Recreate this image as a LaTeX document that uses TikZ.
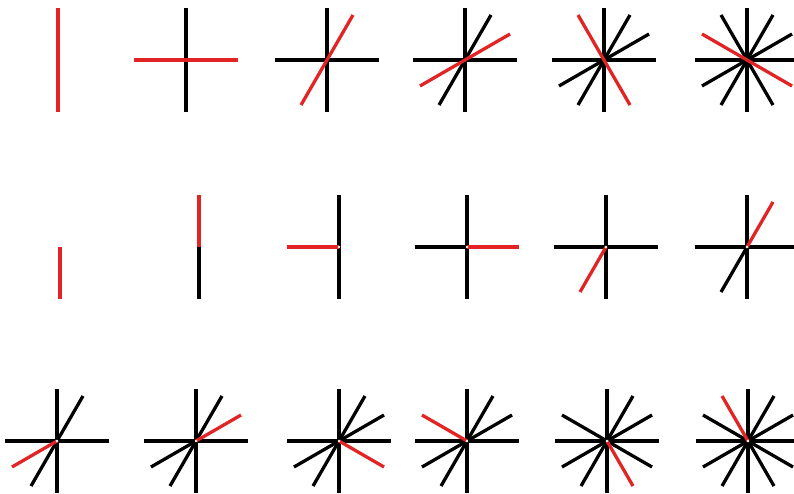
\documentclass[tikz,border=0pt]{standalone}
\definecolor{spokered}{RGB}{226,36,36}
\tikzset{
  spoke/.style={line width=2.8pt,black},
  newspoke/.style={line width=2.8pt,spokered},
  hub/.style={fill=white},
}
\begin{document}
\begin{tikzpicture}[x=0.03cm,y=0.03cm]
\useasboundingbox (0,0) rectangle (794,493);
\def\r{52}

% === Top row: whole lines ===
\begin{scope}[shift={(58,433)}]
    \draw[newspoke] (90:\r) -- (270:\r);
\end{scope}
\foreach \cx/\blk/\rd in {186/{90}/0, 327/{90,0}/60, 465/{90,0,60}/30,
                         604/{90,0,60,30}/120, 747/{90,0,60,30,120}/150} {
    \begin{scope}[shift={(\cx,433)}]
        \foreach \a in \blk \draw[spoke] (\a:\r) -- (\a+180:\r);
        \draw[newspoke] (\rd:\r) -- (\rd+180:\r);
    \end{scope}
}

% === Middle row: half lines ===
\begin{scope}[shift={(60,246)}]
    \draw[newspoke] (0,0) -- (270:\r);
\end{scope}
\begin{scope}[shift={(199,246)}]
    \draw[spoke] (0,0) -- (270:\r);
    \draw[newspoke] (0,0) -- (90:\r);
\end{scope}
\foreach \cx/\blk/\rd in {339/{270,90}/180, 467/{270,90,180}/0,
                         606/{270,90,180,0}/240, 747/{270,90,180,0,240}/60} {
    \begin{scope}[shift={(\cx,246)}]
        \foreach \a in \blk \draw[spoke] (0,0) -- (\a:\r);
        \draw[newspoke] (0,0) -- (\rd:\r);
        \fill[hub] (0,0) circle (1.3);
    \end{scope}
}

% === Bottom row: half lines, continued ===
\foreach \cx/\blk/\rd in {57/{270,90,180,0,240,60}/210,
                         196/{270,90,180,0,240,60,210}/30,
                         339/{270,90,180,0,240,60,210,30}/330,
                         467/{270,90,180,0,240,60,210,30}/150,
                         607/{270,90,180,0,240,60,210,30,330,150}/300,
                         748/{270,90,180,0,240,60,210,30,330,150,300}/120} {
    \begin{scope}[shift={(\cx,52)}]
        \foreach \a in \blk \draw[spoke] (0,0) -- (\a:\r);
        \draw[newspoke] (0,0) -- (\rd:\r);
        \fill[hub] (0,0) circle (1.3);
    \end{scope}
}
\end{tikzpicture}
\end{document}
